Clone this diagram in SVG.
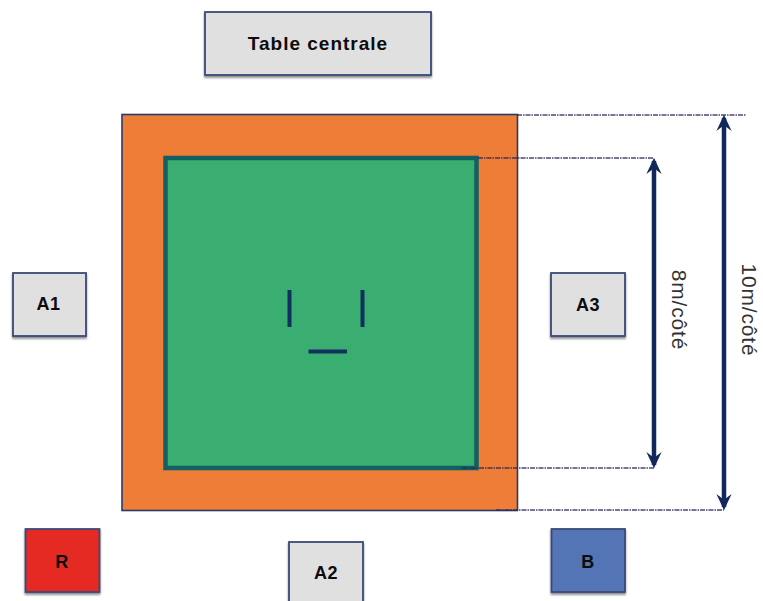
<svg xmlns="http://www.w3.org/2000/svg" width="763" height="601" viewBox="0 0 763 601">
<style>
.box{stroke:#3a4a78;stroke-width:1.8;filter:url(#sh)}
.grey{fill:#e0e0e0}
.lbl{font-family:"Liberation Sans",Arial,sans-serif;font-weight:700;font-size:18px;letter-spacing:.6px;fill:#0c0c0c;text-anchor:middle}
.title{font-size:19px;letter-spacing:1px}
.dim{font-family:"Liberation Sans",Arial,sans-serif;font-size:21px;letter-spacing:.8px;fill:#333;text-anchor:middle}
.dash{stroke:#2a2560;stroke-width:1.5;stroke-dasharray:5 1 1.5 1;fill:none;opacity:.85}
.arr{stroke:#12275c;stroke-width:4.500;fill:none;marker-start:url(#ah);marker-end:url(#ah)}
.tick{stroke:#12305f;stroke-width:4;fill:none}
</style>
<defs>
<filter id="sh" x="-10%" y="-10%" width="120%" height="125%"><feDropShadow dx="0" dy="2" stdDeviation="1.2" flood-color="#000" flood-opacity=".45"/></filter>
<marker id="ah" viewBox="0 0 10 10" refX="8" refY="5" markerWidth="3.600" markerHeight="3.600" orient="auto-start-reverse"><path d="M0 0.3L10 5L0 9.7L3.500 5Z" fill="#12275c"/></marker>
</defs>
<g id="outer-square"><rect x="122" y="114.500" width="395.500" height="396" fill="#ed7d37" stroke="#2a3a6c" stroke-width="1.6"/></g>
<g id="inner-square"><rect x="165.500" y="158" width="311" height="310" fill="#3aae70" stroke="#125f64" stroke-width="4.500"/></g>
<g id="table-centrale"><rect class="box grey" x="205" y="12" width="226" height="63"/><text class="lbl title" x="318" y="50">Table centrale</text></g>
<g id="a1"><rect class="box grey" x="13" y="273" width="73" height="63"/><text class="lbl" x="48.500" y="310">A1</text></g>
<g id="a2"><rect class="box grey" x="289" y="542" width="74" height="63"/><text class="lbl" x="326" y="579">A2</text></g>
<g id="a3"><rect class="box grey" x="551" y="273" width="74" height="63"/><text class="lbl" x="588" y="311">A3</text></g>
<g id="r"><rect class="box" fill="#e42b20" x="25.500" y="529" width="74" height="63"/><text class="lbl" x="62" y="568">R</text></g>
<g id="b"><rect class="box" fill="#5274b5" x="551.500" y="529" width="73.500" height="63"/><text class="lbl" x="588" y="568">B</text></g>
<g id="marks">
<path class="tick" d="M289.500 290V327M362.500 290V327M308.500 351.500H347"/>
</g>
<g id="connectors">
<path class="dash" d="M517 115H746M478 158H654M462 468H654M496 510H724"/>
<path class="arr" d="M654 161V465"/>
<path class="arr" d="M724 118V507"/>
</g>
<g id="dim-labels">
<text class="dim" transform="translate(672 310) rotate(90)">8m/côté</text>
<text class="dim" transform="translate(742 310) rotate(90)">10m/côté</text>
</g>
</svg>
